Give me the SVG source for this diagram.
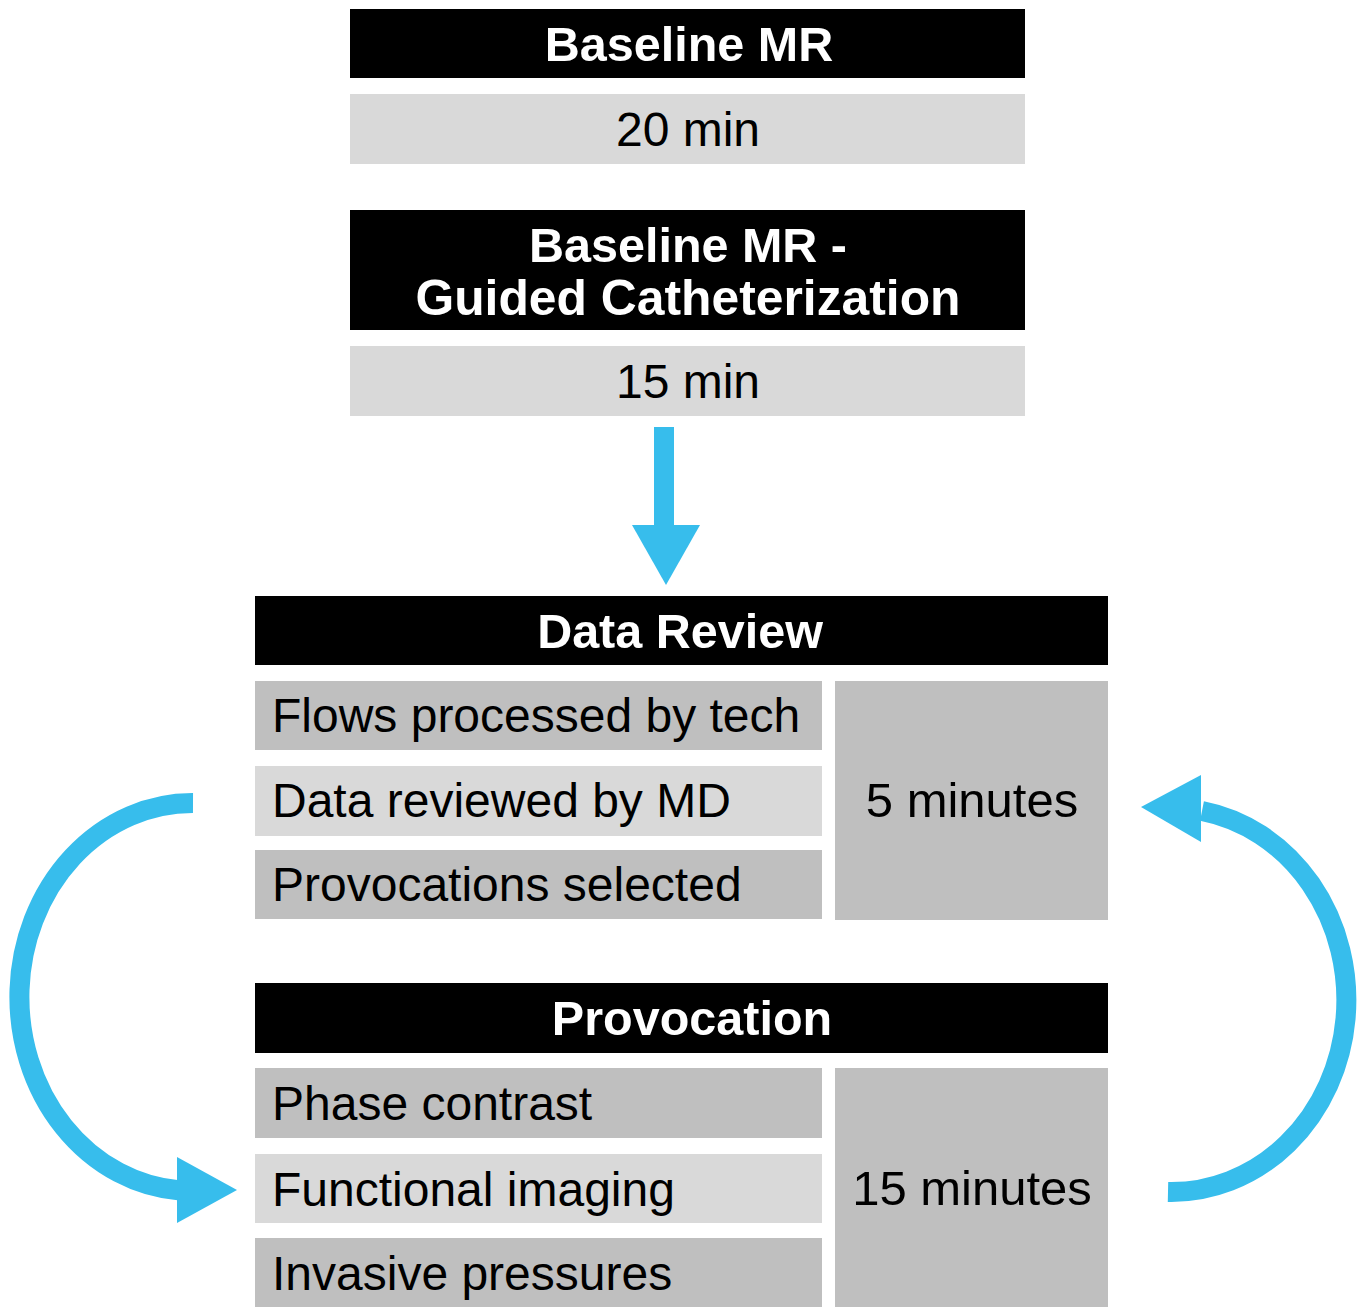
<svg xmlns="http://www.w3.org/2000/svg" width="1360" height="1307" viewBox="0 0 1360 1307">
<style>
.hd{fill:#000}
.lt{fill:#d9d9d9}
.dk{fill:#bfbfbf}
.tb{font-family:"Liberation Sans",Arial,sans-serif;font-weight:bold;font-size:48.5px;fill:#fff;text-anchor:middle}
.tr{font-family:"Liberation Sans",Arial,sans-serif;font-size:48px;fill:#000}
.c{text-anchor:middle}
.arc{fill:none;stroke:#37bdec;stroke-width:20}
.ah{fill:#37bdec}
</style>
<rect width="1360" height="1307" fill="#fff"/>
<g id="baseline-mr">
<rect class="hd" x="350" y="9" width="675" height="69"/>
<text class="tb" x="689" y="61">Baseline MR</text>
</g>
<g id="baseline-time">
<rect class="lt" x="350" y="94" width="675" height="70"/>
<text class="tr c" x="688" y="146">20 min</text>
</g>
<g id="guided-cath">
<rect class="hd" x="350" y="210" width="675" height="120"/>
<text class="tb" x="688" y="262">Baseline MR -</text>
<text class="tb" x="688" y="315" style="font-size:49.8px">Guided Catheterization</text>
</g>
<g id="cath-time">
<rect class="lt" x="350" y="346" width="675" height="70"/>
<text class="tr c" x="688" y="398">15 min</text>
</g>
<g id="data-review">
<rect class="hd" x="255" y="596" width="853" height="69"/>
<text class="tb" x="680" y="648">Data Review</text>
<rect class="dk" x="255" y="681" width="567" height="69"/>
<text class="tr" x="272" y="732">Flows processed by tech</text>
<rect class="lt" x="255" y="766" width="567" height="70"/>
<text class="tr" x="272" y="817">Data reviewed by MD</text>
<rect class="dk" x="255" y="850" width="567" height="69"/>
<text class="tr" x="272" y="901">Provocations selected</text>
<rect class="dk" x="835" y="681" width="273" height="239"/>
<text class="tr c" x="972" y="817" style="font-size:49px">5 minutes</text>
</g>
<g id="provocation">
<rect class="hd" x="255" y="983" width="853" height="70"/>
<text class="tb" x="692" y="1035">Provocation</text>
<rect class="dk" x="255" y="1068" width="567" height="70"/>
<text class="tr" x="272" y="1120">Phase contrast</text>
<rect class="lt" x="255" y="1154" width="567" height="69"/>
<text class="tr" x="272" y="1206">Functional imaging</text>
<rect class="dk" x="255" y="1238" width="567" height="69"/>
<text class="tr" x="272" y="1290">Invasive pressures</text>
<rect class="dk" x="835" y="1068" width="273" height="239"/>
<text class="tr c" x="972" y="1205" style="font-size:49px">15 minutes</text>
</g>
<g id="connectors">
<rect class="ah" x="654" y="427" width="20" height="99"/>
<polygon class="ah" points="632,525 700,525 666,585"/>
<path class="arc" d="M193,803 A173,194 0 0 0 180,1190.5"/>
<polygon class="ah" points="177,1157 237,1190 177,1223"/>
<path class="arc" d="M1168,1192 A175,192 0 0 0 1202,811"/>
<polygon class="ah" points="1201,775 1141,807 1201,842"/>
</g>
</svg>
